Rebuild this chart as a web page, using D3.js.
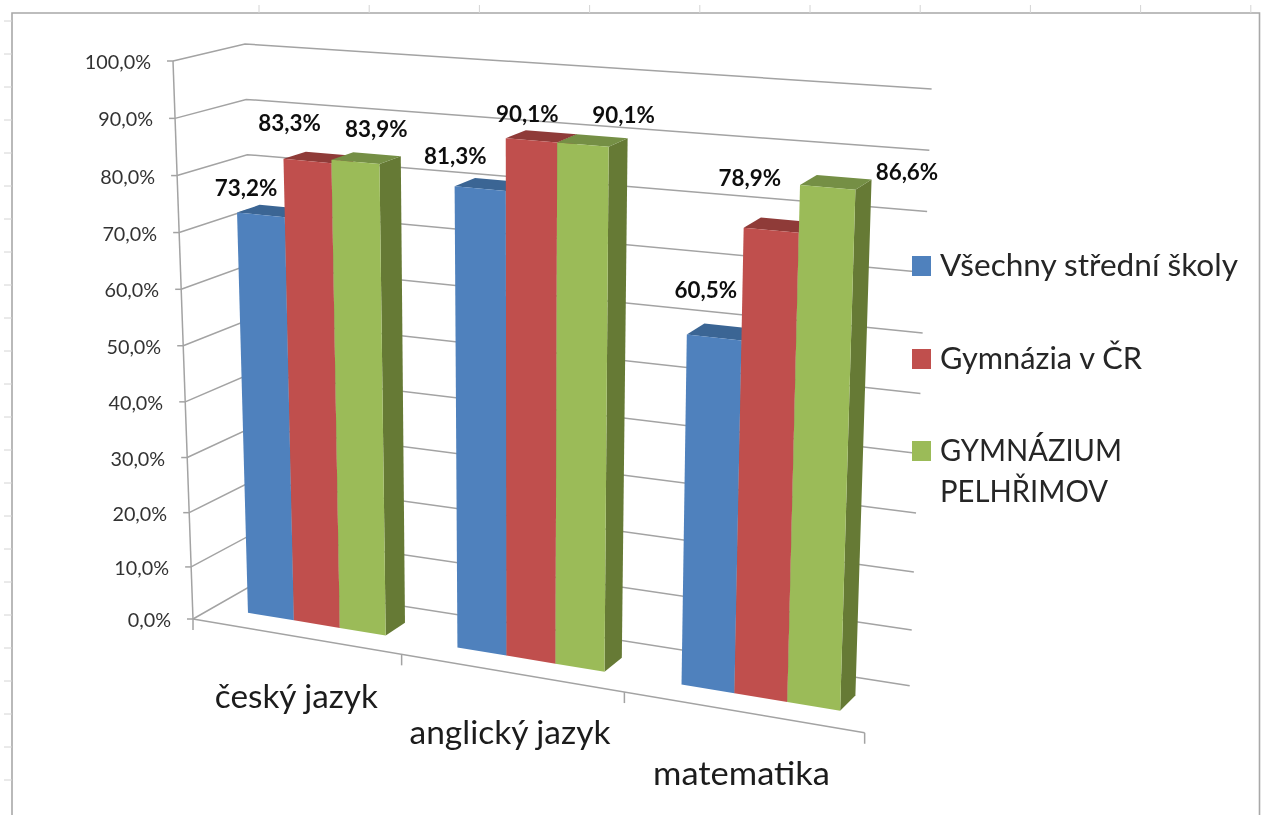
<!DOCTYPE html>
<html><head><meta charset="utf-8">
<script src="https://cdn.jsdelivr.net/npm/d3@7"></script>
<style>html,body{margin:0;padding:0;background:#fff}svg{display:block}text{font-family:Lato,"Noto Sans",sans-serif}</style>
</head><body><svg id="c" width="1261" height="815"></svg>
<script>
const categories = ["český jazyk", "anglický jazyk", "matematika"];
const seriesNames = ["Všechny střední školy", "Gymnázia v ČR", "GYMNÁZIUM PELHŘIMOV"];
const allSchools = [73.2, 81.3, 60.5];
const czechGymnasia = [83.3, 90.1, 78.9];
const pelhrimov = [83.9, 90.1, 86.6];
const valueTicks = d3.range(0, 101, 10);

const root = d3.select("#c");
const defs = root.append("defs");
defs.append("filter").attr("id","soft").attr("x",0).attr("y",0)
  .attr("filterUnits","userSpaceOnUse").attr("width",1261).attr("height",815)
  .append("feGaussianBlur").attr("stdDeviation",0.45);
const svg = root.append("g").attr("filter","url(#soft)");
svg.append("rect").attr("width",1261).attr("height",815).attr("fill","#fff");

const frontFace = ["#4F81BD", "#C0504D", "#9BBB59"];
const topFace = ["#3A6594", "#8F3B39", "#748F44"];
const sideFace = ["#345B87", "#823634", "#667A35"];
const GRID = "#a3a3a3";

/* projection: perspective box described by its eight projected corners */
const box = {
  lbf:[193,619], ltf:[173,61], rbf:[866,733], rtf:[885,118],
  lbb:[256,583], ltb:[245,44], rbb:[911,686], rtb:[933,89]
};
const lerp = (a,b,t)=>[a[0]+(b[0]-a[0])*t, a[1]+(b[1]-a[1])*t];
const uScale = d3.scaleLinear().domain([0,1,2,3]).range([0,0.31,0.641,0.998]);
const vScale = d3.scalePow().exponent(1.03).domain([0,100]).range([0,1]);
const barScale = d3.scalePow().exponent(1.045).domain([0,100]).range([0,1]);
function P(cat, val, d, vs=vScale){
  const u=uScale(cat), v=vs(val);
  const lf=lerp(box.lbf,box.ltf,v), rf=lerp(box.rbf,box.rtf,v);
  const lb=lerp(box.lbb,box.ltb,v), rb=lerp(box.rbb,box.rtb,v);
  return lerp(lerp(lf,rf,u), lerp(lb,rb,u), d);
}
const line = d3.line();
const catBand = d3.scaleBand().domain(d3.range(categories.length)).range([0,categories.length]).paddingInner(0.335).paddingOuter(0.165);
const subBand = d3.scaleBand().domain([0,1,2]).range([0,catBand.bandwidth()]);
const D0 = 0.33, D1 = 0.66;

/* page frame with ruler ticks */
const frame = svg.append("g").attr("fill","none");
frame.append("path").attr("d","M12,815V13H1259.5V815").attr("stroke","#a8a8a8").attr("stroke-width",1.6);
frame.selectAll(".rt").data(d3.range(10)).join("line")
  .attr("x1",i=>259+i*110.2).attr("x2",i=>259+i*110.2).attr("y1",5).attr("y2",13).attr("stroke","#d4d4d4");
frame.selectAll(".lt").data(d3.range(24)).join("line")
  .attr("x1",4).attr("x2",12).attr("y1",i=>21+i*33).attr("y2",i=>21+i*33).attr("stroke","#d4d4d4");

/* walls */
const grid = svg.append("g").attr("fill","none").attr("stroke",GRID).attr("stroke-width",1.5);
grid.selectAll("path.g").data(valueTicks).join("path").attr("class","g")
  .attr("d",t=>line([P(0,t,0),P(0,t,1),P(categories.length,t,1)]));
grid.append("path").attr("d",line([P(0,0,0),P(0,100,0)]));
grid.append("path").attr("d",line([P(0,0,0),P(categories.length,0,0)]));
grid.selectAll("path.yt").data(valueTicks).join("path").attr("class","yt")
  .attr("d",t=>{const p=P(0,t,0);return line([[p[0]-6,p[1]],p]);});
grid.selectAll("path.xt").data(d3.range(categories.length+1)).join("path").attr("class","xt")
  .attr("d",i=>{const p=P(i,0,0);return line([p,[p[0],p[1]+11]]);});

svg.append("g").selectAll("text").data(valueTicks).join("text")
  .attr("x",t=>P(0,t,0)[0]-22).attr("y",t=>P(0,t,0)[1]+8)
  .attr("text-anchor","end").attr("font-size",19.8).attr("fill","#333")
  .text(t=>t.toFixed(1).replace(".",",")+"%");

/* bars */
const series = [allSchools, czechGymnasia, pelhrimov];
const bars = svg.append("g");
categories.forEach((c,ci)=>{
  series.forEach((vals,si)=>{
    const a=catBand(ci)+subBand(si), b=a+subBand.bandwidth(), v=vals[ci];
    const g=bars.append("g");
    g.append("path").attr("fill",sideFace[si])
      .attr("d",line([P(b,0,D0,barScale),P(b,0,D1,barScale),P(b,v,D1,barScale),P(b,v,D0,barScale)])+"Z");
    g.append("path").attr("fill",topFace[si])
      .attr("d",line([P(a,v,D0,barScale),P(a,v,D1,barScale),P(b,v,D1,barScale),P(b,v,D0,barScale)])+"Z");
    g.append("path").attr("fill",frontFace[si])
      .attr("d",line([P(a,0,D0,barScale),P(b,0,D0,barScale),P(b,v,D0,barScale),P(a,v,D0,barScale)])+"Z");
  });
});

/* data labels: placed by hand in the original, kept as nudges from each bar's top */
const labelNudges = [
  [[-26,-23],[-29,-34],[10,-29]],
  [[-35,-28],[-14,-22],[31,-25]],
  [[-17,-42],[-30,-47],[71,-10]]
];
const labels = svg.append("g");
categories.forEach((c,ci)=>series.forEach((vals,si)=>{
  const v=vals[ci], m=catBand(ci)+subBand(si)+subBand.bandwidth()/2, p=P(m,v,(D0+D1)/2,barScale), n=labelNudges[ci][si];
  labels.append("text").attr("x",p[0]+n[0]).attr("y",p[1]+n[1]+8)
    .attr("text-anchor","middle").attr("font-size",22.4).attr("font-weight",700).attr("fill","#111")
    .text(v.toFixed(1).replace(".",",")+"%");
}));

/* category labels */
const categoryNudges = [[-1,71,163],[-3,71,201],[-3,73,177]];
svg.append("g").selectAll("text").data(categories).join("text")
  .attr("x",(d,i)=>P(i+0.5,0,0)[0]+categoryNudges[i][0]).attr("y",(d,i)=>P(i+0.5,0,0)[1]+categoryNudges[i][1])
  .attr("text-anchor","middle").attr("font-size",33.4).attr("fill","#1a1a1a")
  .attr("textLength",(d,i)=>categoryNudges[i][2]).attr("lengthAdjust","spacingAndGlyphs").text(d=>d);

/* legend */
const legendLayout = [
  {y:256, lines:[[seriesNames[0],298]]},
  {y:349, lines:[[seriesNames[1],202]]},
  {y:441, lines:[["GYMNÁZIUM",182],["PELHŘIMOV",168]]}
];
const lg = svg.append("g");
legendLayout.forEach((l,i)=>{
  lg.append("rect").attr("x",912).attr("y",l.y).attr("width",19).attr("height",20).attr("fill",frontFace[i]);
  l.lines.forEach((t,j)=>lg.append("text").attr("x",940).attr("y",l.y+20+j*41)
    .attr("font-size",31).attr("fill","#262626")
    .attr("textLength",t[1]).attr("lengthAdjust","spacingAndGlyphs").text(t[0]));
});
</script></body></html>
